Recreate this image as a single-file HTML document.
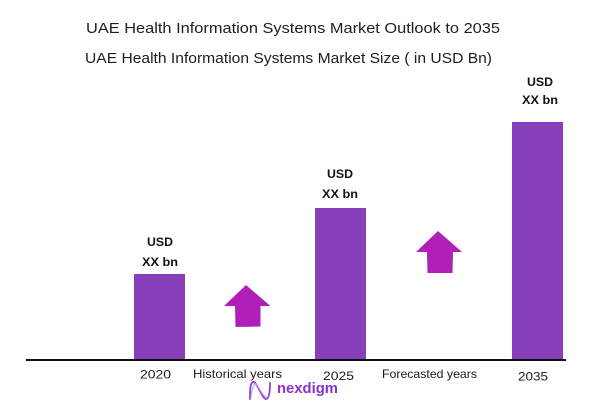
<!DOCTYPE html>
<html>
<head>
<meta charset="utf-8">
<style>
html,body{margin:0;padding:0;background:#fff;}
svg{display:block;}
</style>
</head>
<body>
<svg width="602" height="418" viewBox="0 0 602 418" xmlns="http://www.w3.org/2000/svg">
<rect x="0" y="0" width="602" height="418" fill="#ffffff"/>
<defs>
<linearGradient id="lg" x1="0" y1="0" x2="1" y2="0">
<stop offset="0" stop-color="#9b2fc9"/>
<stop offset="1" stop-color="#7a35d0"/>
</linearGradient>
</defs>
<g font-family="Liberation Sans, sans-serif" fill="#1e1e1e">
<text x="86" y="33" font-size="14.5" textLength="414" lengthAdjust="spacingAndGlyphs">UAE Health Information Systems Market Outlook to 2035</text>
<text x="85" y="63" font-size="14.5" textLength="407" lengthAdjust="spacingAndGlyphs">UAE Health Information Systems Market Size  ( in USD Bn)</text>
</g>
<!-- bars -->
<rect x="134" y="274" width="51" height="86" fill="#8740b9"/>
<rect x="315" y="208" width="51" height="152" fill="#8740b9"/>
<rect x="512" y="122" width="51" height="238" fill="#8740b9"/>
<!-- axis -->
<rect x="26" y="359" width="540" height="2" fill="#111"/>
<!-- arrows -->
<polygon points="246,285 270.5,306 260.5,306 260.5,326.5 235.5,327 235,306 224,306" fill="#b11fb9"/>
<polygon points="438,231 462,252 453,252 452.5,273 427.5,273 427,252 416,252" fill="#b11fb9"/>
<!-- value labels -->
<g font-family="Liberation Sans, sans-serif" font-weight="bold" fill="#111" font-size="12" text-anchor="middle">
<text x="160" y="246" textLength="26" lengthAdjust="spacingAndGlyphs">USD</text>
<text x="160" y="266" textLength="36" lengthAdjust="spacingAndGlyphs">XX bn</text>
<text x="340" y="178" textLength="26" lengthAdjust="spacingAndGlyphs">USD</text>
<text x="340" y="198" textLength="36" lengthAdjust="spacingAndGlyphs">XX bn</text>
<text x="540" y="86" textLength="26" lengthAdjust="spacingAndGlyphs">USD</text>
<text x="540" y="104" textLength="36" lengthAdjust="spacingAndGlyphs">XX bn</text>
</g>
<!-- axis labels -->
<g font-family="Liberation Sans, sans-serif" fill="#1a1a1a" font-size="12">
<text x="140" y="378.5" textLength="31" lengthAdjust="spacingAndGlyphs">2020</text>
<text x="193" y="378" textLength="89" lengthAdjust="spacingAndGlyphs">Historical years</text>
<text x="323" y="380" textLength="31" lengthAdjust="spacingAndGlyphs">2025</text>
<text x="382" y="378" textLength="95" lengthAdjust="spacingAndGlyphs">Forecasted years</text>
<text x="518" y="380.5" textLength="30" lengthAdjust="spacingAndGlyphs">2035</text>
</g>
<!-- logo -->
<g fill="none" stroke-linecap="round">
<path d="M250,399 C250,390 250,383 253,382 C257,381 262,399 266,399 C269,399 270,392 270,383" stroke="#8a3fd6" stroke-width="1.8"/>
<path d="M251,397 C252,388 254,383 256,384 C259,386 263,398 267,397" stroke="#c9a6ee" stroke-width="1.2"/>
</g>
<text x="277" y="393" font-family="Liberation Sans, sans-serif" font-weight="bold" font-size="15" fill="url(#lg)" textLength="61" lengthAdjust="spacingAndGlyphs">nexdigm</text>
</svg>
</body>
</html>
